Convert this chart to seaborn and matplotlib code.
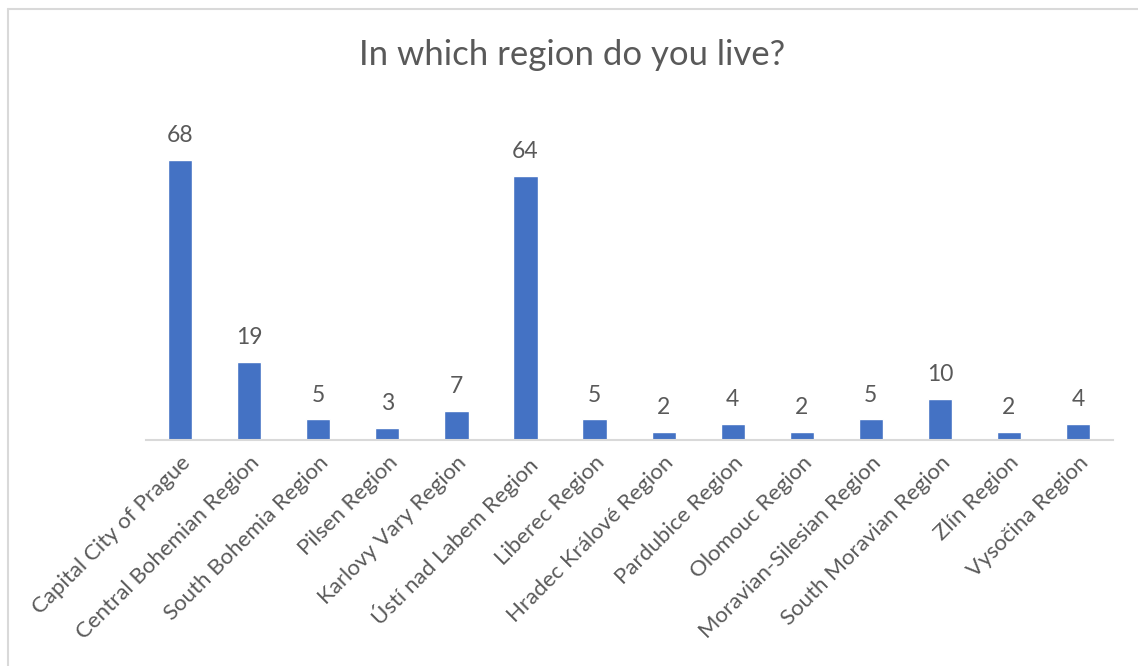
import matplotlib
matplotlib.use("Agg")
import matplotlib.pyplot as plt
import seaborn as sns
import pandas as pd
from matplotlib.lines import Line2D

regions = ["Capital City of Prague", "Central Bohemian Region", "South Bohemia Region",
           "Pilsen Region", "Karlovy Vary Region", "Ústí nad Labem Region",
           "Liberec Region", "Hradec Králové Region", "Pardubice Region",
           "Olomouc Region", "Moravian-Silesian Region", "South Moravian Region",
           "Zlín Region", "Vysočina Region"]
counts = [68, 19, 5, 3, 7, 64, 5, 2, 4, 2, 5, 10, 2, 4]

sns.set_style("white")
plt.rcParams['font.family'] = ['Lato', 'DejaVu Sans']
txt = '#595959'

df = pd.DataFrame({'region': regions, 'count': counts})

fig = plt.figure(figsize=(11.38, 6.66), dpi=100)
ax = fig.add_axes([0.128, 0.3393, 0.8496, 0.4955])
sns.barplot(data=df, x='region', y='count', color='#4472C4', width=0.35,
            saturation=1, ax=ax)

for c in ax.containers:
    ax.bar_label(c, padding=10, fontsize=16.5, color=txt)

ax.set_ylim(0, 80)
ax.set_xlim(-0.5, len(regions) - 0.5)
ax.set_yticks([])
ax.set_xlabel('')
ax.set_ylabel('')
for s in ['top', 'right', 'left']:
    ax.spines[s].set_visible(False)
ax.spines['bottom'].set_color('#D9D9D9')
ax.spines['bottom'].set_linewidth(1.5)
ax.tick_params(axis='x', length=0, pad=9)
plt.setp(ax.get_xticklabels(), rotation=45, ha='right', rotation_mode='anchor',
         fontsize=16, color=txt)

fig.suptitle('In which region do you live?', x=0.503, y=0.942, fontsize=25, color=txt)

# chart area border (only left and top visible in the crop)
fig.add_artist(Line2D([8 / 1138, 8 / 1138], [0, 1 - 8.5 / 666], color='#D9D9D9', lw=1.5,
                      transform=fig.transFigure))
fig.add_artist(Line2D([8 / 1138, 1], [1 - 8.5 / 666, 1 - 8.5 / 666], color='#D9D9D9', lw=1.5,
                      transform=fig.transFigure))

fig.savefig('out.png', dpi=100)
